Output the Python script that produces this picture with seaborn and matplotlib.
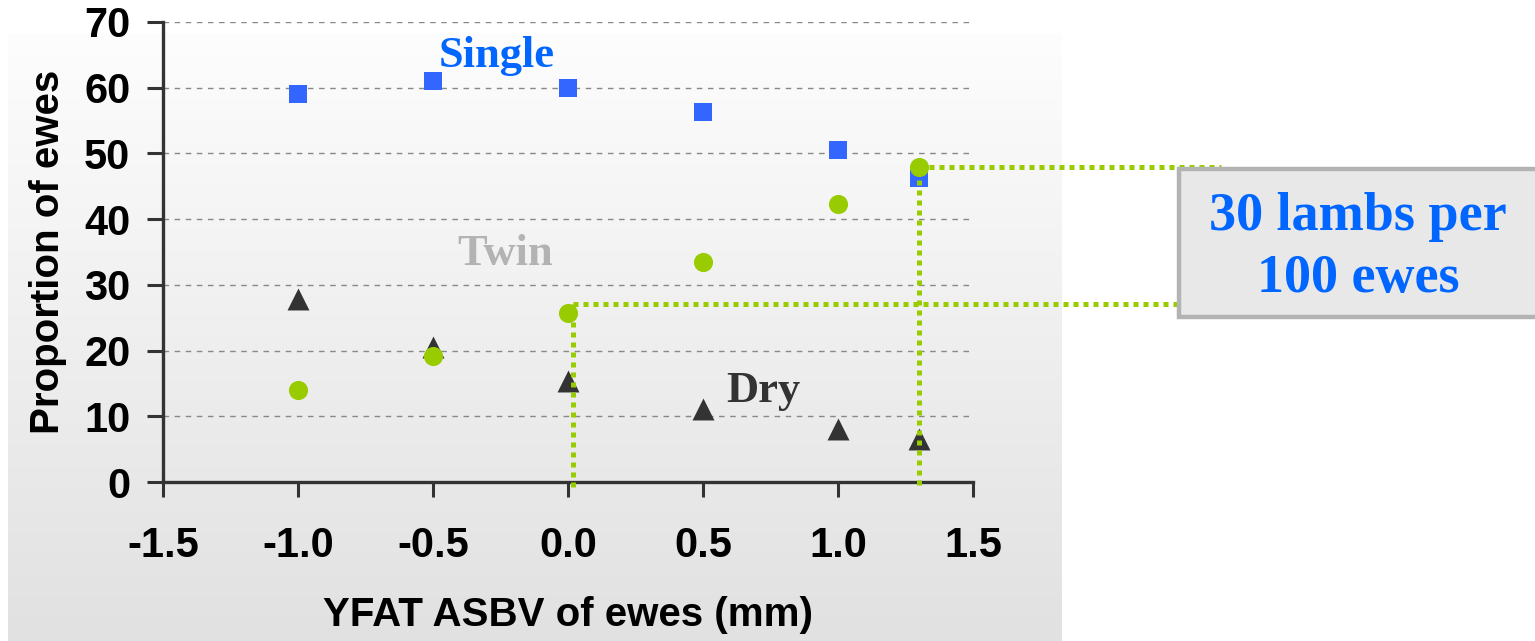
import numpy as np
import pandas as pd
import matplotlib
matplotlib.use("Agg")
import matplotlib.pyplot as plt
import seaborn as sns
from matplotlib.colors import LinearSegmentedColormap
from matplotlib.patches import Rectangle

# ---------------- data ----------------
x_values = [-1.0, -0.5, 0.0, 0.5, 1.0, 1.3]
single = [59.0, 61.0, 60.0, 56.3, 50.5, 46.2]
twin = [14.0, 19.2, 25.7, 33.5, 42.3, 47.9]
dry = [27.8, 20.6, 15.4, 11.1, 8.1, 6.5]
series_names = ["Single", "Twin", "Dry"]
x_ticks = [-1.5, -1.0, -0.5, 0.0, 0.5, 1.0, 1.5]
y_ticks = [0, 10, 20, 30, 40, 50, 60, 70]
guide_low = [0.02, 27.1]
guide_high = [1.3, 47.9]
box_text = "30 lambs per\n100 ewes"

df = pd.DataFrame({
    "x": x_values * 3,
    "value": single + twin + dry,
    "series": [n for n in series_names for _ in x_values],
})

# ---------------- style ----------------
sns.set_style("white")
plt.rcParams["font.family"] = ["Liberation Sans", "DejaVu Sans"]
plt.rcParams["text.color"] = "black"
plt.rcParams["axes.labelcolor"] = "black"
plt.rcParams["xtick.labelcolor"] = "black"
plt.rcParams["ytick.labelcolor"] = "black"

W, H = 1535, 641
fig = plt.figure(figsize=(W / 100, H / 100), dpi=100)
fig.patch.set_facecolor("white")

# gradient background panel
bg = fig.add_axes([8 / W, 0, (1062 - 8) / W, (641 - 33) / H], zorder=-5)
cmap = LinearSegmentedColormap.from_list("g", ["#fdfdfd", "#e1e1e1"])
grad = np.linspace(0, 1, 256).reshape(-1, 1)
bg.imshow(grad, aspect="auto", cmap=cmap, extent=[0, 1, 0, 1], origin="upper")
bg.axis("off")

ax = fig.add_axes([163 / W, 1 - 482 / H, (973 - 163) / W, (482 - 22) / H], zorder=1)
ax.set_facecolor("none")

colors = {"Single": "#3366ff", "Twin": "#99cc00", "Dry": "#333333"}
markers = {"Single": "s", "Twin": "o", "Dry": "^"}
sizes = {"Single": 185, "Twin": 190, "Dry": 250}

for name in ["Single", "Dry", "Twin"]:
    sub = df[df["series"] == name]
    sns.scatterplot(data=sub, x="x", y="value", color=colors[name],
                    marker=markers[name], s=sizes[name], linewidth=0,
                    legend=False, ax=ax, zorder=3, clip_on=False)

# guide lines (dotted green)
gcol = "#99cc00"
gkw = dict(color=gcol, lw=3.6, ls=(0, (1, 1)), clip_on=False, zorder=4,
           solid_capstyle="butt", dash_capstyle="butt")
ax.plot([guide_low[0], guide_low[0]], [-0.8, guide_low[1]], **gkw)
ax.plot([guide_low[0], 2.27], [guide_low[1], guide_low[1]], **gkw)
ax.plot([guide_high[0], guide_high[0]], [-0.5, guide_high[1]], **gkw)
ax.plot([guide_high[0], 2.42], [guide_high[1], guide_high[1]], **gkw)

# axes formatting
ax.set_xlim(-1.5, 1.5)
ax.set_ylim(0, 70)
ax.set_xticks(x_ticks)
ax.set_xticklabels([f"{t:.1f}" for t in x_ticks])
ax.set_yticks(y_ticks)
ax.set_yticklabels([str(t) for t in y_ticks])
for lab in ax.get_xticklabels() + ax.get_yticklabels():
    lab.set_fontweight("bold")
    lab.set_fontsize(30)
    lab.set_color("black")
ax.tick_params(axis="y", direction="out", length=11.5, width=2.2, color="#333333", pad=12, left=True)
ax.tick_params(axis="x", direction="out", length=11, width=2.2, color="#333333", pad=21, bottom=True)

ax.yaxis.grid(True, ls=(0, (4, 4)), color="#888888", lw=1.0)
ax.xaxis.grid(False)
ax.set_axisbelow(True)
for side in ["top", "right"]:
    ax.spines[side].set_visible(False)
for side in ["left", "bottom"]:
    ax.spines[side].set_linewidth(2.4)
    ax.spines[side].set_color("#333333")

ax.set_xlabel("YFAT ASBV of ewes (mm)", fontsize=29, fontweight="bold", labelpad=21, color="black")
ax.set_ylabel("Proportion of ewes", fontsize=29, fontweight="bold", labelpad=12, color="black")

# series labels
serif = ["Liberation Serif", "DejaVu Serif"]
ax.text(-0.263, 63.2, "Single", color="#0066ff", fontsize=32, fontweight="bold",
        family=serif, ha="center", va="baseline", zorder=5)
ax.text(-0.233, 33.0, "Twin", color="#b3b3b3", fontsize=32, fontweight="bold",
        family=serif, ha="center", va="baseline", zorder=5)
ax.text(0.722, 12.2, "Dry", color="#333333", fontsize=32, fontweight="bold",
        family=serif, ha="center", va="baseline", zorder=5)

# callout box
rect = Rectangle((1179 / W, 1 - 317 / H), (1545 - 1179) / W, (317 - 169) / H,
                 transform=fig.transFigure, facecolor="#e8e8e8",
                 edgecolor="#b3b3b3", lw=3.2, zorder=10)
fig.patches.append(rect)
fig.text(1358 / W, 1 - 248 / H, box_text, color="#0066ff", fontsize=39,
         fontweight="bold", family=serif, ha="center", va="center",
         linespacing=1.3, zorder=11)

fig.savefig("out.png", dpi=100, facecolor="white")
